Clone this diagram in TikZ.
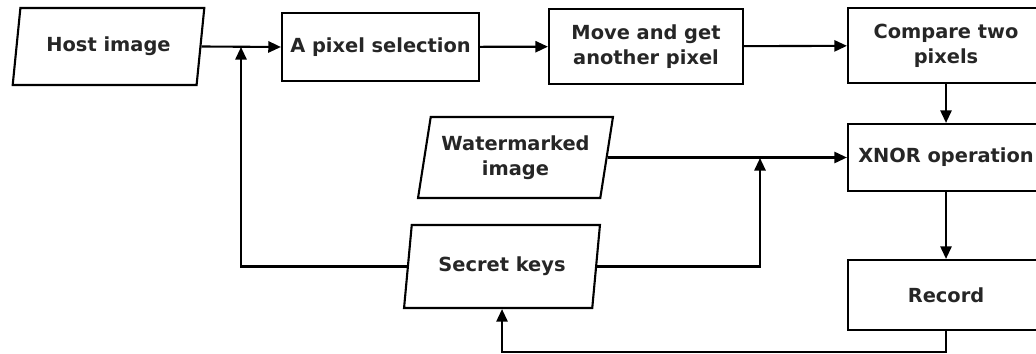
\documentclass[tikz,border=0pt]{standalone}
\usepackage{fontspec}
\setmainfont{DejaVu Sans}
\usepackage{tikz}
\usetikzlibrary{positioning, arrows.meta, shapes.geometric}

\tikzset{
    blk/.style={rectangle, draw=black, line width=1.5pt, align=center, inner sep=2pt, text=black!85, font=\fontsize{13.8}{18}\selectfont\bfseries},
    io/.style={trapezium, trapezium left angle=77, trapezium right angle=103, trapezium stretches=true, draw=black, line width=1.5pt, align=center, inner sep=2pt, text=black!85, font=\fontsize{13.8}{18}\selectfont\bfseries},
    flow/.style={line width=1.5pt, -{Triangle[length=9pt, width=8pt]}}
}

\begin{document}
\begin{tikzpicture}[x=0.025cm, y=-0.025cm]
            \useasboundingbox (0, 0) rectangle (1036, 354);
            \clip (0, 0) rectangle (1036, 354);

            \node[io, minimum width=4.825cm, minimum height=1.925cm] (host) at (108.5, 46.5) {Host image};
            \node[blk, minimum width=4.925cm, minimum height=1.7cm] (sel) at (380.5, 47) {A pixel selection};
            \node[blk, minimum width=4.85cm, minimum height=1.875cm] (move) at (646, 46.5) {Move and get\\another pixel};
            \node[blk, minimum width=4.9cm, minimum height=1.875cm] (cmp) at (946, 45.5) {Compare two\\pixels};
            \node[io, minimum width=4.875cm, minimum height=2.025cm] (wm) at (515.5, 157.5) {Watermarked\\image};
            \node[blk, minimum width=4.9cm, minimum height=1.675cm] (xnor) at (946, 157.5) {XNOR operation};
            \node[io, minimum width=4.9cm, minimum height=2.075cm] (key) at (502, 266.5) {Secret keys};
            \node[blk, minimum width=4.9cm, minimum height=1.75cm] (rec) at (946, 295) {Record};

            \coordinate (j1) at (241, 47);
            \coordinate (j2) at (760, 158);
            \coordinate (j3) at (946, 352);

            \draw[flow] (host.east) -- (sel.west);
            \draw[flow] (sel) -- (move);
            \draw[flow] (move) -- (cmp);
            \draw[flow] (cmp) -- (xnor);
            \draw[flow] (wm.east |- xnor.west) -- (xnor.west);
            \draw[flow] (xnor) -- (rec);
            \draw[flow] (rec.south) -- (j3) -| (key.south);
            \draw[flow] (key.east) -| (j2);
            \draw[flow] (key.west) -| (j1);
\end{tikzpicture}
\end{document}
